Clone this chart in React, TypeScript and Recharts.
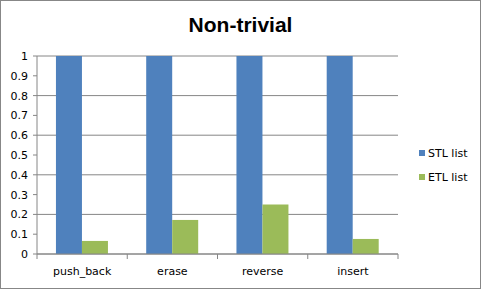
import { Bar, BarChart, CartesianGrid, Legend, XAxis, YAxis } from "recharts";

const categories = ["push_back", "erase", "reverse", "insert"];
const seriesNames = ["STL list", "ETL list"];
const stlList = [1, 1, 1, 1];
const etlList = [0.066, 0.172, 0.25, 0.076];
const yTicks = [0, 0.1, 0.2, 0.3, 0.4, 0.5, 0.6, 0.7, 0.8, 0.9, 1];

const data = categories.map((name, i) => ({ name, stl: stlList[i], etl: etlList[i] }));

const font = "'DejaVu Sans', Verdana, sans-serif";
const axisColor = "#868686";
const W = 481;
const H = 289;
const margin = { top: 56, right: 83, left: 0, bottom: 4 };
const yAxisWidth = 37;
const halfBand = (W - margin.left - margin.right - yAxisWidth) / categories.length / 2;

// category label in the middle, tick marks on the category boundaries (Excel style)
function CategoryTick(props: any) {
  const { x, y, payload, index } = props;
  const last = index === categories.length - 1;
  return (
    <g>
      <line x1={x - halfBand} x2={x - halfBand} y1={y} y2={y + 5} stroke={axisColor} strokeWidth={1} />
      {last && <line x1={x + halfBand} x2={x + halfBand} y1={y} y2={y + 5} stroke={axisColor} strokeWidth={1} />}
      <text x={x} y={y + 21} textAnchor="middle" fontFamily={font} fontSize={11} fill="#000">
        {payload.value}
      </text>
    </g>
  );
}

function LegendBox({ payload }: any) {
  const items = [...(payload || [])].sort(
    (a: any, b: any) => seriesNames.indexOf(a.value) - seriesNames.indexOf(b.value)
  );
  return (
    <div style={{ fontFamily: font, fontSize: 11, color: "#000" }}>
      {items.map((p: any) => (
        <div key={p.value} style={{ display: "flex", alignItems: "center", height: 24 }}>
          <span style={{ width: 6, height: 6, background: p.color, marginRight: 3, display: "inline-block" }} />
          {p.value}
        </div>
      ))}
    </div>
  );
}

export default function App() {
  return (
    <div style={{ position: "absolute", left: 0, top: 0, width: W, height: H, background: "#fff" }}>
      <div
        style={{
          position: "absolute",
          top: 13,
          left: 0,
          width: W,
          textAlign: "center",
          fontFamily: "'Liberation Sans', Arial, sans-serif",
          fontWeight: "bold",
          fontSize: 21,
          color: "#000",
        }}
      >
        Non-trivial
      </div>
      <BarChart width={W} height={H} data={data} margin={margin} barCategoryGap="21%" barGap={0}>
        <CartesianGrid vertical={false} stroke={axisColor} />
        <XAxis
          dataKey="name"
          height={31}
          tickLine={false}
          tickSize={0}
          tickMargin={0}
          axisLine={{ stroke: axisColor }}
          tick={CategoryTick}
        />
        <YAxis
          domain={[0, 1]}
          ticks={yTicks}
          width={yAxisWidth}
          tickSize={4}
          tickMargin={5}
          axisLine={{ stroke: axisColor }}
          tickLine={{ stroke: axisColor }}
          tick={{ fontFamily: font, fontSize: 11, fill: "#000" }}
        />
        <Legend
          layout="vertical"
          align="center"
          verticalAlign="middle"
          content={LegendBox}
          wrapperStyle={{ left: 419, top: 141, width: "auto" }}
        />
        <Bar dataKey="stl" name={seriesNames[0]} fill="#4F81BD" isAnimationActive={false} />
        <Bar dataKey="etl" name={seriesNames[1]} fill="#9BBB59" isAnimationActive={false} />
      </BarChart>
      <div
        style={{
          position: "absolute",
          left: 0,
          top: 0,
          width: W,
          height: H,
          boxSizing: "border-box",
          border: "1px solid #878787",
          pointerEvents: "none",
        }}
      />
    </div>
  );
}
